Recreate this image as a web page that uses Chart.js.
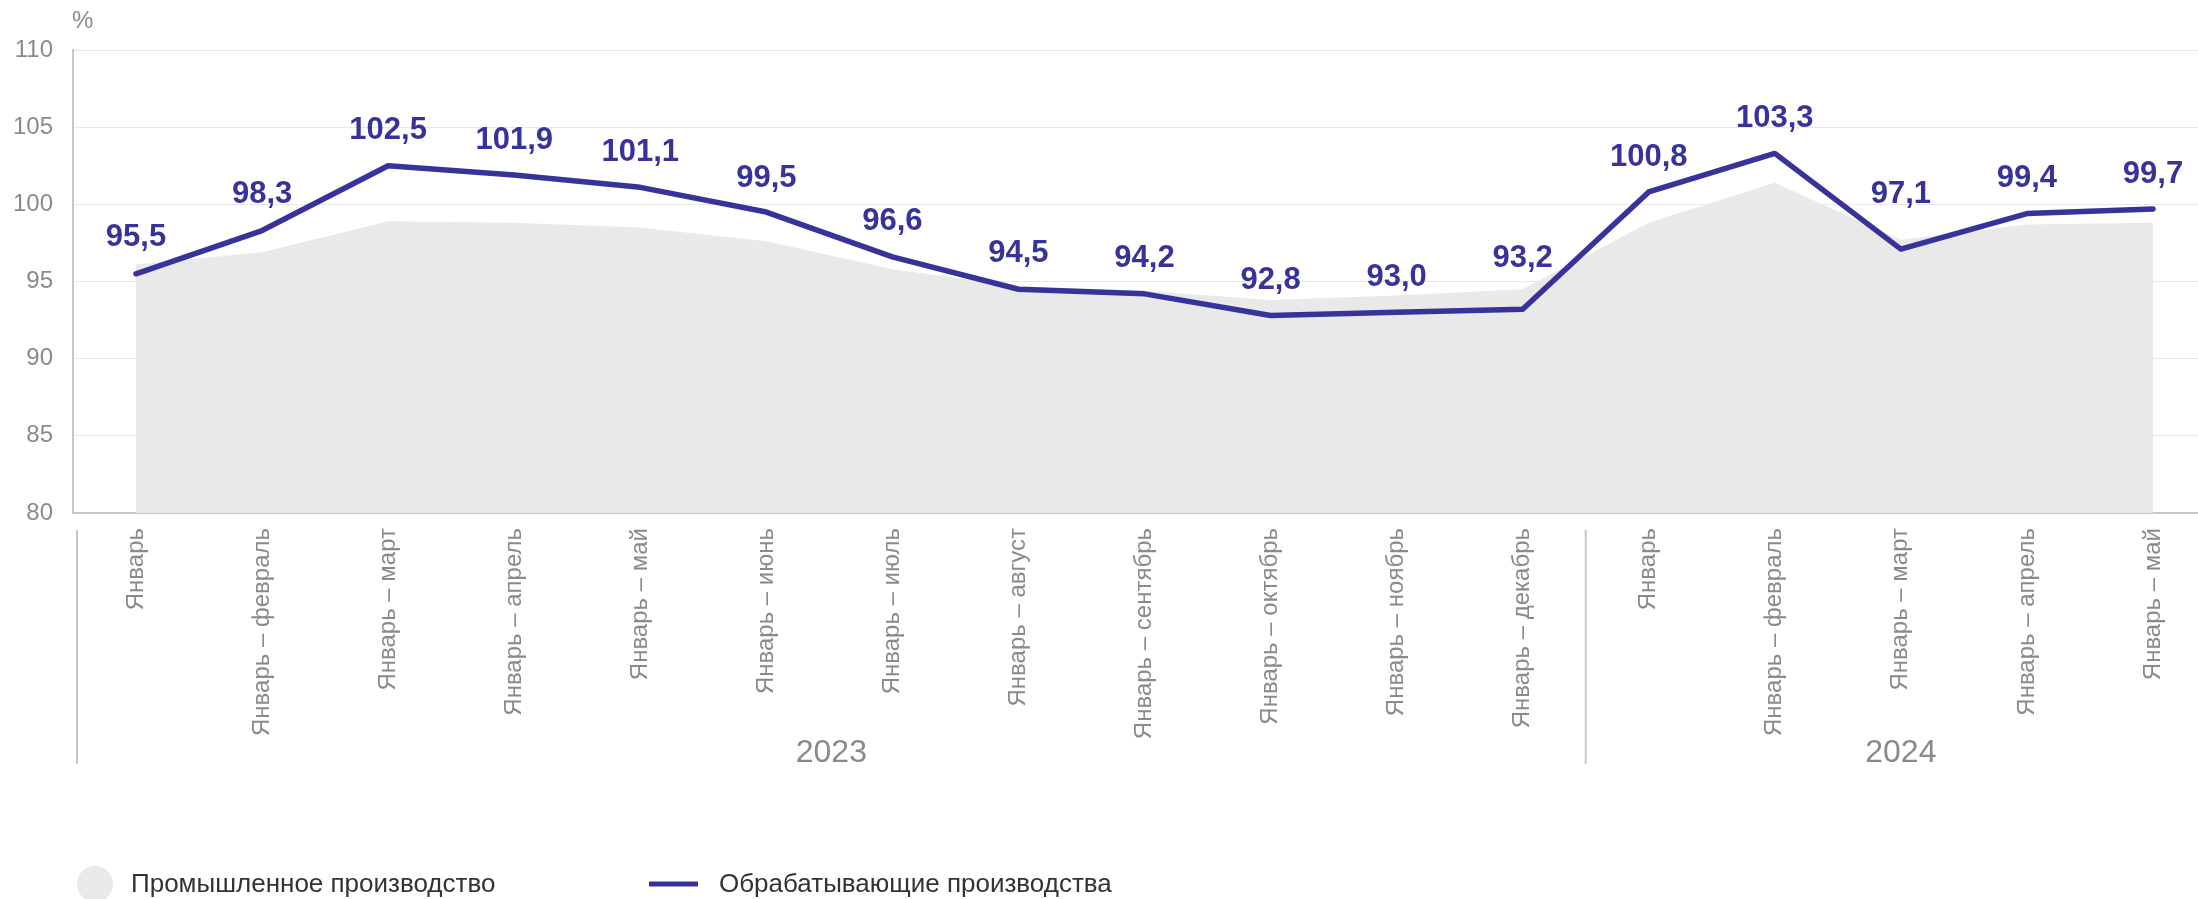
<!DOCTYPE html>
<html lang="ru">
<head>
<meta charset="utf-8">
<title>Индекс производства</title>
<script src="https://cdn.jsdelivr.net/npm/chart.js@4.4.1/dist/chart.umd.min.js"></script>
<style>
  html, body { margin: 0; padding: 0; background: #fff; overflow: hidden; }
  #wrap { width: 2216px; height: 899px; }
</style>
</head>
<body>
<div id="wrap"><canvas id="wykres" width="2216" height="899"></canvas></div>
<script>
// подписи по оси X
const periods = [
  'Январь', 'Январь – февраль', 'Январь – март', 'Январь – апрель', 'Январь – май',
  'Январь – июнь', 'Январь – июль', 'Январь – август', 'Январь – сентябрь',
  'Январь – октябрь', 'Январь – ноябрь', 'Январь – декабрь',
  'Январь', 'Январь – февраль', 'Январь – март', 'Январь – апрель', 'Январь – май'
];
const years = ['2023', '2024'];
const yearSpans = [12, 5];

// Промышленное производство (серая область)
const industry = [96.1, 96.9, 98.9, 98.8, 98.5, 97.6, 95.8, 94.7, 94.4, 93.8, 94.1, 94.5, 98.8, 101.4, 97.7, 98.7, 98.8];
// Обрабатывающие производства (линия)
const manufacturing = [95.5, 98.3, 102.5, 101.9, 101.1, 99.5, 96.6, 94.5, 94.2, 92.8, 93.0, 93.2, 100.8, 103.3, 97.1, 99.4, 99.7];

const FONT = '"Liberation Sans", Arial, sans-serif';
const GREY = '#8a8a8a';
const AXIS = '#c6c6c6';
const LINE = '#37339a';
const AREA = '#e9e9e9';

// насколько подпись значения поднята над точкой
const labelLift = [36, 36, 35, 35, 35, 34, 35, 36, 35, 35, 35, 51, 35, 35, 55, 35, 35];

const extras = {
  id: 'extras',
  afterDatasetsDraw(chart) {
    const ctx = chart.ctx;
    const meta = chart.getDatasetMeta(1);
    ctx.save();
    ctx.fillStyle = LINE;
    ctx.font = 'bold 31px ' + FONT;
    ctx.textAlign = 'center';
    ctx.textBaseline = 'middle';
    meta.data.forEach((pt, i) => {
      const txt = manufacturing[i].toFixed(1).replace('.', ',');
      ctx.fillText(txt, pt.x, pt.y - labelLift[i]);
    });
    ctx.restore();
  },
  afterDraw(chart) {
    const ctx = chart.ctx;
    const area = chart.chartArea;
    const x = chart.scales.x;
    ctx.save();

    // "%"
    ctx.fillStyle = GREY;
    ctx.font = '24px ' + FONT;
    ctx.textAlign = 'left';
    ctx.textBaseline = 'middle';
    ctx.fillText('%', 72, 21);

    // разделители годов и подписи годов
    const step = x.getPixelForValue(1) - x.getPixelForValue(0);
    let start = 0;
    let left = area.left + 4;
    const top = area.bottom + 17, bottom = area.bottom + 251;
    ctx.strokeStyle = AXIS;
    ctx.lineWidth = 2;
    ctx.beginPath();
    ctx.moveTo(left, top); ctx.lineTo(left, bottom);
    ctx.stroke();
    years.forEach((y, k) => {
      const end = start + yearSpans[k] - 1;
      let right = x.getPixelForValue(end) + step / 2;
      if (k < years.length - 1) {
        ctx.beginPath();
        ctx.moveTo(right, top); ctx.lineTo(right, bottom);
        ctx.stroke();
      } else {
        right = area.right;
      }
      ctx.fillStyle = GREY;
      ctx.font = '32px ' + FONT;
      ctx.textAlign = 'center';
      ctx.textBaseline = 'middle';
      ctx.fillText(y, (left + right) / 2, 753);
      left = right;
      start = end + 1;
    });

    // легенда
    const ly = 884;
    ctx.fillStyle = AREA;
    ctx.beginPath();
    ctx.arc(95, ly, 18, 0, Math.PI * 2);
    ctx.fill();
    ctx.fillStyle = '#333';
    ctx.font = '26px ' + FONT;
    ctx.textAlign = 'left';
    ctx.textBaseline = 'middle';
    ctx.fillText(chart.data.datasets[0].label, 131, ly + 1);
    ctx.strokeStyle = LINE;
    ctx.lineWidth = 5;
    ctx.beginPath();
    ctx.moveTo(649, ly); ctx.lineTo(698, ly);
    ctx.stroke();
    ctx.fillStyle = '#333';
    ctx.fillText(chart.data.datasets[1].label, 719, ly + 1);
    ctx.restore();
  }
};

new Chart(document.getElementById('wykres'), {
  type: 'line',
  data: {
    labels: periods,
    datasets: [
      {
        label: 'Промышленное производство',
        data: industry,
        fill: 'start',
        backgroundColor: AREA,
        borderWidth: 0,
        pointRadius: 0,
        tension: 0,
        order: 2
      },
      {
        label: 'Обрабатывающие производства',
        data: manufacturing,
        fill: false,
        borderColor: LINE,
        borderWidth: 5.5,
        borderJoinStyle: 'round',
        borderCapStyle: 'round',
        pointRadius: 0,
        tension: 0,
        order: 1
      }
    ]
  },
  options: {
    responsive: false,
    animation: false,
    devicePixelRatio: 1,
    layout: { padding: { top: 50, left: 0, right: 0, bottom: 0 } },
    plugins: {
      legend: { display: false },
      tooltip: { enabled: false }
    },
    scales: {
      x: {
        type: 'category',
        offset: true,
        grid: { display: false, drawTicks: false },
        border: { color: AXIS, width: 2 },
        ticks: {
          autoSkip: false,
          maxRotation: 90,
          minRotation: 90,
          padding: 15,
          color: GREY,
          font: { family: FONT, size: 24 }
        },
        afterFit(scale) { scale.height = 386; }
      },
      y: {
        min: 80,
        max: 110,
        grid: { color: '#e8e8e8', lineWidth: 1, drawTicks: false },
        border: { color: AXIS, width: 2 },
        ticks: {
          stepSize: 5,
          padding: 20,
          color: GREY,
          font: { family: FONT, size: 24 }
        },
        afterFit(scale) { scale.width = 73; }
      }
    }
  },
  plugins: [extras]
});
</script>
</body>
</html>
